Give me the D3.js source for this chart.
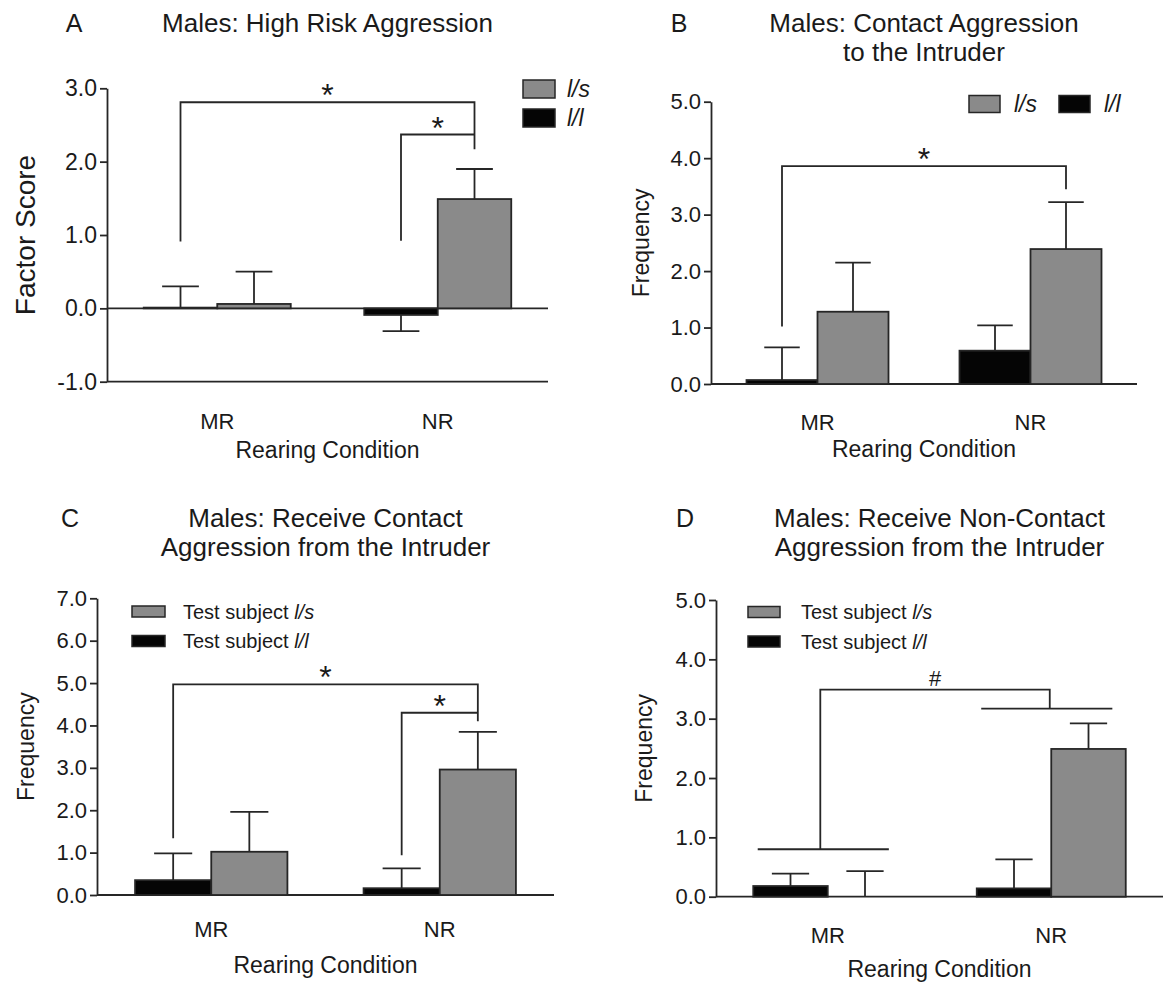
<!DOCTYPE html>
<html>
<head>
<meta charset="utf-8">
<script src="https://cdnjs.cloudflare.com/ajax/libs/d3/7.8.5/d3.min.js"></script>
<style>
  html, body { margin: 0; padding: 0; background: #fff; }
  svg { display: block; font-family: "Liberation Sans", Arial, sans-serif; }
</style>
</head>
<body>
<svg id="fig" width="1164" height="984"></svg>
<script>
// categories
const groups = ['MR', 'NR'];
const genotypes = ['l/l', 'l/s'];

// A: High Risk Aggression (factor score, bar value + error bar end)
const aLL    = [0.01, -0.09];
const aLLErr = [0.30, -0.31];
const aLS    = [0.06, 1.49];
const aLSErr = [0.50, 1.90];

// B: Contact Aggression to the Intruder
const bLL    = [0.07, 0.59];
const bLLErr = [0.65, 1.04];
const bLS    = [1.28, 2.39];
const bLSErr = [2.15, 3.22];

// C: Receive Contact Aggression
const cLL    = [0.35, 0.16];
const cLLErr = [0.98, 0.63];
const cLS    = [1.02, 2.96];
const cLSErr = [1.96, 3.85];

// D: Receive Non-Contact Aggression
const dLL    = [0.18, 0.14];
const dLLErr = [0.39, 0.63];
const dLS    = [0.00, 2.49];
const dLSErr = [0.43, 2.92];

// tick values
const aTicks = [-1, 0, 1, 2, 3];
const bTicks = [0, 1, 2, 3, 4, 5];
const cTicks = [0, 1, 2, 3, 4, 5, 6, 7];
const dTicks = [0, 1, 2, 3, 4, 5];

// significance brackets: ends = [group, genotype or fraction of group], y = top, legs
const aBrackets = [
  { from: ['MR', 'l/l'], to: ['NR', 'l/s'], y: 2.81, yFrom: 0.91, yTo: 2.17, label: '*' },
  { from: ['NR', 'l/l'], to: ['NR', 'l/s'], y: 2.37, yFrom: 0.92, yTo: 2.37, label: '*' }
];
const bBrackets = [
  { from: ['MR', 'l/l'], to: ['NR', 'l/s'], y: 3.86, yFrom: 1.02, yTo: 3.45, label: '*' }
];
const cBrackets = [
  { from: ['MR', 'l/l'], to: ['NR', 'l/s'], y: 4.97, yFrom: 1.34, yTo: 4.10, label: '*' },
  { from: ['NR', 'l/l'], to: ['NR', 'l/s'], y: 4.30, yFrom: 0.94, yTo: 4.30, label: '*' }
];
const dBrackets = [
  { from: ['MR', 0.45], to: ['NR', 0.49], y: 3.49, yFrom: 0.80, yTo: 3.17, label: '#' }
];
// group lines in D (main effect of rearing)
const dGroupLines = [
  { group: 'MR', y: 0.80 },
  { group: 'NR', y: 3.17 }
];

const GRAY = '#8a8a8a';
const INK = '#1a1a1a';
const LINE = '#262626';
const SW = 1.8;
const fills = { 'l/l': '#050505', 'l/s': GRAY };

const svg = d3.select('#fig');

function panel(cfg) {
  const g = svg.append('g');

  const x = d3.scaleBand().domain(groups).range([cfg.x0, cfg.x1]);
  const xi = d3.scaleBand().domain(genotypes).range([0, x.bandwidth()])
    .paddingInner(0).paddingOuter(0.5);
  const y = d3.scaleLinear().domain(cfg.domain).range([cfg.yBot, cfg.yTop]);
  const bw = xi.bandwidth();

  const xPos = ([grp, k]) => typeof k === 'number'
    ? x(grp) + xi(genotypes[0]) + k * 2 * bw
    : x(grp) + xi(k) + bw / 2;

  // y axis
  const ax = g.append('g')
    .attr('transform', `translate(${cfg.x0},0)`)
    .call(d3.axisLeft(y)
      .tickValues(cfg.ticks)
      .tickSize(7)
      .tickSizeOuter(0)
      .tickPadding(3)
      .tickFormat(d => d.toFixed(1)));
  ax.select('.domain').attr('stroke', LINE).attr('stroke-width', SW);
  ax.selectAll('.tick line').attr('stroke', LINE).attr('stroke-width', SW);
  ax.selectAll('.tick text')
    .attr('fill', INK)
    .style('font-family', '"Liberation Sans", Arial, sans-serif')
    .style('font-size', cfg.tickSize + 'px');

  // horizontal base lines
  g.selectAll('line.hl')
    .data(cfg.hlines)
    .enter().append('line')
      .attr('x1', cfg.x0).attr('x2', cfg.x1)
      .attr('y1', d => y(d)).attr('y2', d => y(d))
      .attr('stroke', LINE).attr('stroke-width', SW);

  // bars
  const rows = [];
  groups.forEach((grp, i) => {
    genotypes.forEach(gt => {
      const s = cfg.series[gt];
      rows.push({ grp, gt, v: s.v[i], e: s.e[i] });
    });
  });

  g.selectAll('rect.bar')
    .data(rows.filter(d => d.v !== 0))
    .enter().append('rect')
      .attr('x', d => x(d.grp) + xi(d.gt))
      .attr('width', bw)
      .attr('y', d => Math.min(y(d.v), y(0)))
      .attr('height', d => Math.abs(y(d.v) - y(0)))
      .attr('fill', d => fills[d.gt])
      .attr('stroke', LINE).attr('stroke-width', SW);

  // error bars (one sided)
  const eb = g.selectAll('g.err')
    .data(rows)
    .enter().append('g')
      .attr('transform', d => `translate(${x(d.grp) + xi(d.gt) + bw / 2},0)`);
  eb.append('line')
    .attr('y1', d => y(d.v)).attr('y2', d => y(d.e))
    .attr('stroke', LINE).attr('stroke-width', SW);
  eb.append('line')
    .attr('x1', -bw / 4).attr('x2', bw / 4)
    .attr('y1', d => y(d.e)).attr('y2', d => y(d.e))
    .attr('stroke', LINE).attr('stroke-width', SW);

  // group lines
  (cfg.groupLines || []).forEach(d => {
    g.append('line')
      .attr('x1', xPos([d.group, 0.03])).attr('x2', xPos([d.group, 0.91]))
      .attr('y1', y(d.y)).attr('y2', y(d.y))
      .attr('stroke', LINE).attr('stroke-width', SW);
  });

  // brackets
  cfg.brackets.forEach(b => {
    const xa = xPos(b.from), xb = xPos(b.to);
    g.append('path')
      .attr('d', `M${xa},${y(b.yFrom)}V${y(b.y)}H${xb}V${y(b.yTo)}`)
      .attr('fill', 'none')
      .attr('stroke', LINE).attr('stroke-width', SW);
    g.append('text')
      .attr('x', (xa + xb) / 2)
      .attr('y', y(b.y) + (b.label === '*' ? 4 : -4))
      .attr('text-anchor', 'middle')
      .attr('fill', INK)
      .style('font-size', (b.label === '*' ? 32 : 22) + 'px')
      .text(b.label);
  });

  // category labels
  g.selectAll('text.cat')
    .data(groups)
    .enter().append('text')
      .attr('x', d => x(d) + x.bandwidth() / 2)
      .attr('y', cfg.catY)
      .attr('text-anchor', 'middle')
      .attr('fill', INK)
      .style('font-size', '22px')
      .text(d => d);

  const cx = (cfg.x0 + cfg.x1) / 2;
  g.append('text')
    .attr('x', cx).attr('y', cfg.xTitleY)
    .attr('text-anchor', 'middle')
    .attr('fill', INK)
    .style('font-size', '23px')
    .text('Rearing Condition');

  // y title
  g.append('text')
    .attr('transform', `translate(${cfg.yTitleX},${(cfg.yTop + cfg.yBot) / 2}) rotate(-90)`)
    .attr('text-anchor', 'middle')
    .attr('dy', '0.35em')
    .attr('fill', INK)
    .style('font-size', cfg.yTitleSize + 'px')
    .text(cfg.yTitle);

  // panel letter and title
  g.append('text')
    .attr('x', cfg.letterX).attr('y', cfg.titleY[0])
    .attr('text-anchor', 'middle')
    .attr('fill', INK)
    .style('font-size', '25px')
    .text(cfg.letter);
  cfg.title.forEach((t, i) => {
    g.append('text')
      .attr('x', cx).attr('y', cfg.titleY[i])
      .attr('text-anchor', 'middle')
      .attr('fill', INK)
      .style('font-size', '26px')
      .text(t);
  });

  // legend
  const lg = cfg.legend;
  lg.items.forEach((it, i) => {
    const lx = lg.x + i * lg.dx, ly = lg.y + i * lg.dy;
    g.append('rect')
      .attr('x', lx).attr('y', ly - lg.h / 2)
      .attr('width', lg.w).attr('height', lg.h)
      .attr('fill', fills[it]).attr('stroke', LINE).attr('stroke-width', 1.5);
    const t = g.append('text')
      .attr('x', lx + lg.w + lg.gap).attr('y', ly)
      .attr('dy', '0.35em')
      .attr('fill', INK)
      .style('font-size', lg.size + 'px');
    if (lg.prefix) t.append('tspan').text(lg.prefix);
    t.append('tspan').style('font-style', 'italic').text(it);
  });
}

panel({
  letter: 'A', letterX: 74, title: ['Males: High Risk Aggression'], titleY: [32],
  x0: 107, x1: 548, yTop: 88.3, yBot: 381.7, domain: [-1, 3], ticks: aTicks, tickSize: 23,
  hlines: [0, -1],
  series: { 'l/l': { v: aLL, e: aLLErr }, 'l/s': { v: aLS, e: aLSErr } },
  brackets: aBrackets,
  catY: 429, xTitleY: 458,
  yTitle: 'Factor Score', yTitleX: 25, yTitleSize: 28,
  legend: { items: ['l/s', 'l/l'], x: 523, y: 89, dx: 0, dy: 29, w: 32, h: 18, gap: 12, size: 23 }
});

panel({
  letter: 'B', letterX: 679, title: ['Males: Contact Aggression', 'to the Intruder'], titleY: [32, 61],
  x0: 711, x1: 1137, yTop: 101.7, yBot: 384, domain: [0, 5], ticks: bTicks, tickSize: 22,
  hlines: [0],
  series: { 'l/l': { v: bLL, e: bLLErr }, 'l/s': { v: bLS, e: bLSErr } },
  brackets: bBrackets,
  catY: 430, xTitleY: 457,
  yTitle: 'Frequency', yTitleX: 641, yTitleSize: 23,
  legend: { items: ['l/s', 'l/l'], x: 969, y: 104, dx: 90, dy: 0, w: 31, h: 17, gap: 14, size: 23 }
});

panel({
  letter: 'C', letterX: 70, title: ['Males: Receive Contact', 'Aggression from the Intruder'], titleY: [527, 556],
  x0: 97, x1: 554, yTop: 598.3, yBot: 895, domain: [0, 7], ticks: cTicks, tickSize: 22,
  hlines: [0],
  series: { 'l/l': { v: cLL, e: cLLErr }, 'l/s': { v: cLS, e: cLSErr } },
  brackets: cBrackets,
  catY: 937, xTitleY: 973,
  yTitle: 'Frequency', yTitleX: 26, yTitleSize: 23,
  legend: { items: ['l/s', 'l/l'], x: 132, y: 611.5, dx: 0, dy: 29.5, w: 33, h: 11, gap: 18, size: 20, prefix: 'Test subject ' }
});

panel({
  letter: 'D', letterX: 685, title: ['Males: Receive Non-Contact', 'Aggression from the Intruder'], titleY: [527, 556],
  x0: 716, x1: 1163, yTop: 600, yBot: 896.7, domain: [0, 5], ticks: dTicks, tickSize: 22,
  hlines: [0],
  series: { 'l/l': { v: dLL, e: dLLErr }, 'l/s': { v: dLS, e: dLSErr } },
  brackets: dBrackets, groupLines: dGroupLines,
  catY: 943, xTitleY: 977,
  yTitle: 'Frequency', yTitleX: 644, yTitleSize: 23,
  legend: { items: ['l/s', 'l/l'], x: 748, y: 612, dx: 0, dy: 29.5, w: 32, h: 11, gap: 21, size: 20, prefix: 'Test subject ' }
});
</script>
</body>
</html>
